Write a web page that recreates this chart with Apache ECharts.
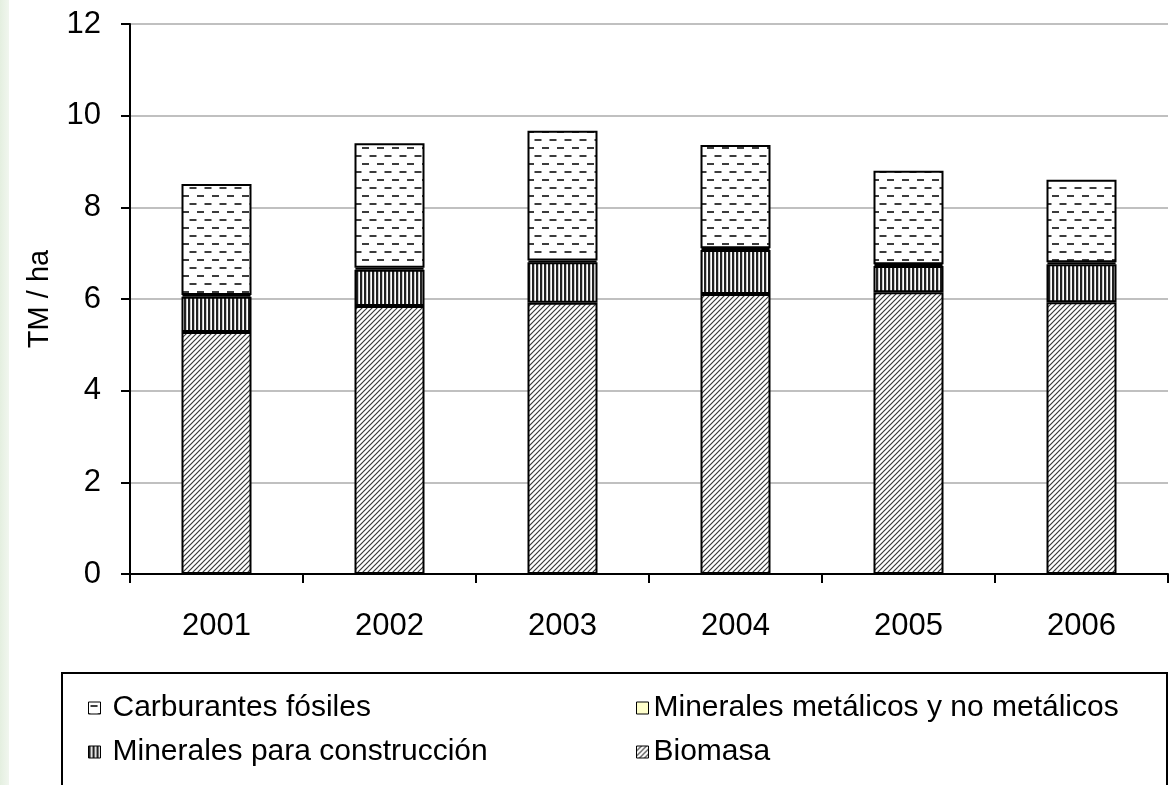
<!DOCTYPE html>
<html>
<head>
<meta charset="utf-8">
<script src="https://cdn.jsdelivr.net/npm/echarts@6/dist/echarts.min.js"></script>
<style>
  html, body { margin: 0; padding: 0; background: #fff; }
  #strip { position: absolute; left: 0; top: 0; width: 9px; height: 785px;
    background: linear-gradient(to right, #e4efe0, #f1f6ef); }
  #chart { width: 1172px; height: 785px; }
</style>
</head>
<body>
<div id="strip"></div>
<div id="chart"></div>
<script>
// 年份
const years = ['2001', '2002', '2003', '2004', '2005', '2006'];
// 各类物质 (TM / ha)
const biomasa = [5.28, 5.85, 5.92, 6.11, 6.15, 5.93];
const construccion = [0.77, 0.79, 0.88, 0.96, 0.57, 0.83];
const metalicos = [0.04, 0.04, 0.04, 0.04, 0.04, 0.04];
const fosiles = [2.42, 2.72, 2.83, 2.25, 2.04, 1.80];
const yTicks = [0, 2, 4, 6, 8, 10, 12];

const FONT = 'Liberation Sans, Arial, sans-serif';

// 斜线纹理
function makeDiagonal() {
  const s = 5;
  const c = document.createElement('canvas');
  c.width = s; c.height = s;
  const g = c.getContext('2d');
  g.fillStyle = '#fff';
  g.fillRect(0, 0, s, s);
  g.strokeStyle = '#3a3a3a';
  g.lineWidth = 1.2;
  g.beginPath();
  g.moveTo(-1, s + 1); g.lineTo(s + 1, -1);
  g.moveTo(-1, 1); g.lineTo(1, -1);
  g.moveTo(s - 1, s + 1); g.lineTo(s + 1, s - 1);
  g.stroke();
  return c;
}

// 竖线纹理
function makeVertical() {
  const c = document.createElement('canvas');
  c.width = 4; c.height = 4;
  const g = c.getContext('2d');
  g.fillStyle = '#c8c8c8';
  g.fillRect(0, 0, 4, 4);
  g.fillStyle = '#222';
  g.fillRect(0, 0, 2, 4);
  g.fillStyle = '#fff';
  g.fillRect(3, 0, 1, 4);
  return c;
}

// 虚线纹理
function makeDashes() {
  const c = document.createElement('canvas');
  c.width = 15; c.height = 16;
  const g = c.getContext('2d');
  g.fillStyle = '#fff';
  g.fillRect(0, 0, 15, 16);
  g.fillStyle = '#3c3c3c';
  g.fillRect(2, 3, 7, 2);
  g.fillRect(9.5, 11, 5.5, 2);
  g.fillRect(0, 11, 1.5, 2);
  return c;
}

const patBiomasa = { image: makeDiagonal(), repeat: 'repeat' };
const patConstr = { image: makeVertical(), repeat: 'repeat' };
const patFosil = { image: makeDashes(), repeat: 'repeat' };

const chart = echarts.init(document.getElementById('chart'), null, { renderer: 'canvas' });

function barSeries(name, data, color) {
  return {
    name: name,
    type: 'bar',
    stack: 'total',
    data: data,
    barWidth: 70,
    itemStyle: { color: color, borderColor: '#000', borderWidth: 2 },
    emphasis: { disabled: true }
  };
}

function legendCol(left, padLeft, names) {
  return {
    orient: 'vertical',
    left: left, top: 688,
    icon: 'rect',
    itemWidth: 12, itemHeight: 12, itemGap: 14,
    data: names,
    textStyle: { fontFamily: FONT, fontSize: 30, color: '#000', padding: [0, 0, 0, padLeft] },
    itemStyle: { borderColor: '#000', borderWidth: 1 },
    selectedMode: false
  };
}

chart.setOption({
  animation: false,
  backgroundColor: 'transparent',
  grid: { left: 130, right: 4, top: 24, bottom: 211 },
  xAxis: {
    type: 'category',
    data: years,
    axisLine: { lineStyle: { color: '#000', width: 2 } },
    axisTick: { show: true, length: 9, lineStyle: { color: '#000', width: 2 } },
    axisLabel: { color: '#000', fontFamily: FONT, fontSize: 31, margin: 37 }
  },
  yAxis: {
    type: 'value',
    min: 0, max: 12, interval: 2,
    name: 'TM / ha',
    nameLocation: 'middle',
    nameGap: 76,
    nameTextStyle: { color: '#000', fontFamily: FONT, fontSize: 29 },
    axisLine: { show: true, lineStyle: { color: '#000', width: 2 } },
    axisTick: { show: true, length: 9, lineStyle: { color: '#000', width: 2 } },
    axisLabel: {
      color: '#000', fontFamily: FONT, fontSize: 31, margin: 29,
      formatter: v => yTicks.includes(v) ? String(v) : ''
    },
    splitLine: { lineStyle: { color: '#c0c0c0', width: 2 } }
  },
  legend: [
    legendCol(83, 7, ['Carburantes fósiles', 'Minerales para construcción']),
    legendCol(631, 0, ['Minerales metálicos y no metálicos', 'Biomasa'])
  ],
  graphic: [{
    type: 'rect',
    shape: { x: 62, y: 673, width: 1105, height: 140 },
    style: { fill: 'none', stroke: '#000', lineWidth: 2 },
    silent: true
  }],
  series: [
    barSeries('Biomasa', biomasa, patBiomasa),
    barSeries('Minerales para construcción', construccion, patConstr),
    barSeries('Minerales metálicos y no metálicos', metalicos, '#ffffcc'),
    barSeries('Carburantes fósiles', fosiles, patFosil)
  ]
});
</script>
</body>
</html>
